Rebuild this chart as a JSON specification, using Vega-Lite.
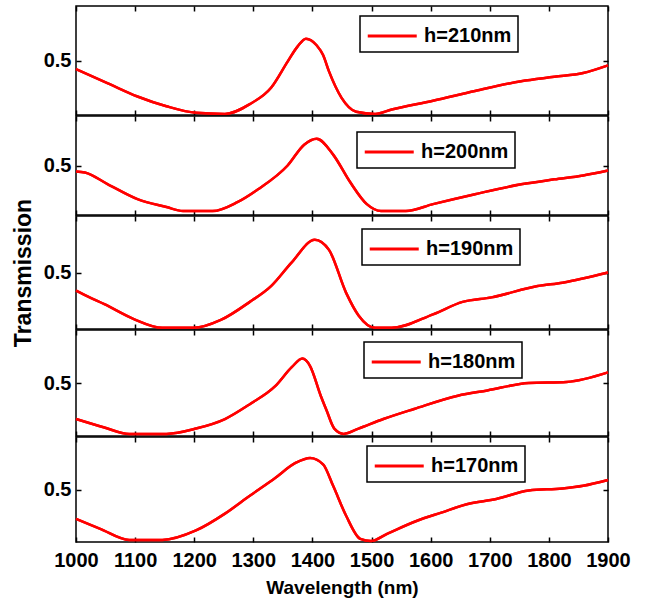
{
  "$schema": "https://vega.github.io/schema/vega-lite/v6.json",
  "padding": {"left": 11, "top": 4, "right": 10, "bottom": 2},
  "spacing": 1,
  "bounds": "flush",
  "datasets": {
    "d": [
      {"panel": "h=210nm", "wl": 1000, "T": 0.42},
      {"panel": "h=210nm", "wl": 1054, "T": 0.29},
      {"panel": "h=210nm", "wl": 1104, "T": 0.17},
      {"panel": "h=210nm", "wl": 1153, "T": 0.08},
      {"panel": "h=210nm", "wl": 1203, "T": 0.02},
      {"panel": "h=210nm", "wl": 1252, "T": 0.01},
      {"panel": "h=210nm", "wl": 1294, "T": 0.10},
      {"panel": "h=210nm", "wl": 1330, "T": 0.25},
      {"panel": "h=210nm", "wl": 1358, "T": 0.49},
      {"panel": "h=210nm", "wl": 1375, "T": 0.63},
      {"panel": "h=210nm", "wl": 1389, "T": 0.70},
      {"panel": "h=210nm", "wl": 1407, "T": 0.64},
      {"panel": "h=210nm", "wl": 1418, "T": 0.55},
      {"panel": "h=210nm", "wl": 1428, "T": 0.40},
      {"panel": "h=210nm", "wl": 1449, "T": 0.16},
      {"panel": "h=210nm", "wl": 1474, "T": 0.03},
      {"panel": "h=210nm", "wl": 1506, "T": 0.01},
      {"panel": "h=210nm", "wl": 1534, "T": 0.05},
      {"panel": "h=210nm", "wl": 1604, "T": 0.13},
      {"panel": "h=210nm", "wl": 1675, "T": 0.22},
      {"panel": "h=210nm", "wl": 1753, "T": 0.31},
      {"panel": "h=210nm", "wl": 1809, "T": 0.35},
      {"panel": "h=210nm", "wl": 1858, "T": 0.385},
      {"panel": "h=210nm", "wl": 1900, "T": 0.455},

      {"panel": "h=200nm", "wl": 1000, "T": 0.44},
      {"panel": "h=200nm", "wl": 1015, "T": 0.43},
      {"panel": "h=200nm", "wl": 1054, "T": 0.31},
      {"panel": "h=200nm", "wl": 1104, "T": 0.16},
      {"panel": "h=200nm", "wl": 1153, "T": 0.08},
      {"panel": "h=200nm", "wl": 1181, "T": 0.04},
      {"panel": "h=200nm", "wl": 1231, "T": 0.04},
      {"panel": "h=200nm", "wl": 1273, "T": 0.13},
      {"panel": "h=200nm", "wl": 1308, "T": 0.26},
      {"panel": "h=200nm", "wl": 1358, "T": 0.50},
      {"panel": "h=200nm", "wl": 1386, "T": 0.71},
      {"panel": "h=200nm", "wl": 1407, "T": 0.77},
      {"panel": "h=200nm", "wl": 1435, "T": 0.61},
      {"panel": "h=200nm", "wl": 1464, "T": 0.33},
      {"panel": "h=200nm", "wl": 1492, "T": 0.11},
      {"panel": "h=200nm", "wl": 1516, "T": 0.04},
      {"panel": "h=200nm", "wl": 1558, "T": 0.04},
      {"panel": "h=200nm", "wl": 1604, "T": 0.11},
      {"panel": "h=200nm", "wl": 1675, "T": 0.21},
      {"panel": "h=200nm", "wl": 1753, "T": 0.31},
      {"panel": "h=200nm", "wl": 1809, "T": 0.36},
      {"panel": "h=200nm", "wl": 1858, "T": 0.40},
      {"panel": "h=200nm", "wl": 1900, "T": 0.45},

      {"panel": "h=190nm", "wl": 1000, "T": 0.34},
      {"panel": "h=190nm", "wl": 1023, "T": 0.28},
      {"panel": "h=190nm", "wl": 1048, "T": 0.22},
      {"panel": "h=190nm", "wl": 1097, "T": 0.09},
      {"panel": "h=190nm", "wl": 1146, "T": 0.01},
      {"panel": "h=190nm", "wl": 1199, "T": 0.01},
      {"panel": "h=190nm", "wl": 1245, "T": 0.08},
      {"panel": "h=190nm", "wl": 1294, "T": 0.24},
      {"panel": "h=190nm", "wl": 1330, "T": 0.38},
      {"panel": "h=190nm", "wl": 1365, "T": 0.59},
      {"panel": "h=190nm", "wl": 1404, "T": 0.79},
      {"panel": "h=190nm", "wl": 1428, "T": 0.70},
      {"panel": "h=190nm", "wl": 1457, "T": 0.32},
      {"panel": "h=190nm", "wl": 1478, "T": 0.12},
      {"panel": "h=190nm", "wl": 1506, "T": 0.01},
      {"panel": "h=190nm", "wl": 1534, "T": 0.01},
      {"panel": "h=190nm", "wl": 1604, "T": 0.13},
      {"panel": "h=190nm", "wl": 1654, "T": 0.24},
      {"panel": "h=190nm", "wl": 1703, "T": 0.28},
      {"panel": "h=190nm", "wl": 1781, "T": 0.38},
      {"panel": "h=190nm", "wl": 1823, "T": 0.41},
      {"panel": "h=190nm", "wl": 1900, "T": 0.50},

      {"panel": "h=180nm", "wl": 1000, "T": 0.16},
      {"panel": "h=180nm", "wl": 1048, "T": 0.08},
      {"panel": "h=180nm", "wl": 1090, "T": 0.02},
      {"panel": "h=180nm", "wl": 1153, "T": 0.02},
      {"panel": "h=180nm", "wl": 1203, "T": 0.07},
      {"panel": "h=180nm", "wl": 1252, "T": 0.16},
      {"panel": "h=180nm", "wl": 1294, "T": 0.30},
      {"panel": "h=180nm", "wl": 1337, "T": 0.47},
      {"panel": "h=180nm", "wl": 1365, "T": 0.65},
      {"panel": "h=180nm", "wl": 1383, "T": 0.73},
      {"panel": "h=180nm", "wl": 1396, "T": 0.66},
      {"panel": "h=180nm", "wl": 1414, "T": 0.38},
      {"panel": "h=180nm", "wl": 1424, "T": 0.24},
      {"panel": "h=180nm", "wl": 1437, "T": 0.07},
      {"panel": "h=180nm", "wl": 1453, "T": 0.02},
      {"panel": "h=180nm", "wl": 1478, "T": 0.07},
      {"panel": "h=180nm", "wl": 1520, "T": 0.16},
      {"panel": "h=180nm", "wl": 1572, "T": 0.255},
      {"panel": "h=180nm", "wl": 1646, "T": 0.38},
      {"panel": "h=180nm", "wl": 1696, "T": 0.43},
      {"panel": "h=180nm", "wl": 1766, "T": 0.50},
      {"panel": "h=180nm", "wl": 1830, "T": 0.51},
      {"panel": "h=180nm", "wl": 1900, "T": 0.60},

      {"panel": "h=170nm", "wl": 1000, "T": 0.22},
      {"panel": "h=170nm", "wl": 1041, "T": 0.125},
      {"panel": "h=170nm", "wl": 1090, "T": 0.02},
      {"panel": "h=170nm", "wl": 1146, "T": 0.02},
      {"panel": "h=170nm", "wl": 1203, "T": 0.11},
      {"panel": "h=170nm", "wl": 1252, "T": 0.27},
      {"panel": "h=170nm", "wl": 1294, "T": 0.44},
      {"panel": "h=170nm", "wl": 1337, "T": 0.61},
      {"panel": "h=170nm", "wl": 1372, "T": 0.755},
      {"panel": "h=170nm", "wl": 1396, "T": 0.80},
      {"panel": "h=170nm", "wl": 1418, "T": 0.74},
      {"panel": "h=170nm", "wl": 1435, "T": 0.535},
      {"panel": "h=170nm", "wl": 1457, "T": 0.25},
      {"panel": "h=170nm", "wl": 1481, "T": 0.03},
      {"panel": "h=170nm", "wl": 1499, "T": 0.01},
      {"panel": "h=170nm", "wl": 1527, "T": 0.08},
      {"panel": "h=170nm", "wl": 1576, "T": 0.20},
      {"panel": "h=170nm", "wl": 1618, "T": 0.28},
      {"panel": "h=170nm", "wl": 1661, "T": 0.36},
      {"panel": "h=170nm", "wl": 1711, "T": 0.41},
      {"panel": "h=170nm", "wl": 1766, "T": 0.49},
      {"panel": "h=170nm", "wl": 1823, "T": 0.51},
      {"panel": "h=170nm", "wl": 1858, "T": 0.535},
      {"panel": "h=170nm", "wl": 1900, "T": 0.59}
    ]
  },
  "data": {"name": "d"},
  "vconcat": [
    {
      "width": 532, "height": 109,
      "transform": [{"filter": "datum.panel === 'h=210nm'"}],
      "layer": [
        {"mark": {"type": "line", "strokeWidth": 2.5, "interpolate": "monotone"},
         "encoding": {
           "x": {"field": "wl", "type": "quantitative", "scale": {"domain": [1000, 1900], "nice": false}, "axis": {"orient": "bottom", "values": [1000,1100,1200,1300,1400,1500,1600,1700,1800,1900], "labels": false, "title": null}},
           "y": {"field": "T", "type": "quantitative", "scale": {"domain": [0, 1], "nice": false}, "axis": {"orient": "left", "values": [0.5], "format": ".1f", "title": null}},
           "color": {"field": "panel", "type": "nominal", "scale": {"range": ["#ff0000"]}, "legend": {"orient": "none", "legendX": 284, "legendY": 10}}
         }},
        {"mark": {"type": "line", "strokeWidth": 2.5, "interpolate": "monotone", "color": "#ff0000"},
         "encoding": {
           "x": {"field": "wl", "type": "quantitative", "scale": {"domain": [1000, 1900], "nice": false}, "axis": {"orient": "top", "values": [1000,1100,1200,1300,1400,1500,1600,1700,1800,1900], "labels": false, "title": null}},
           "y": {"field": "T", "type": "quantitative", "scale": {"domain": [0, 1], "nice": false}, "axis": {"orient": "right", "values": [0.5], "labels": false, "title": null}}
         }}
      ],
      "resolve": {"axis": {"x": "independent", "y": "independent"}}
    },
    {
      "width": 532, "height": 99,
      "transform": [{"filter": "datum.panel === 'h=200nm'"}],
      "layer": [
        {"mark": {"type": "line", "strokeWidth": 2.5, "interpolate": "monotone"},
         "encoding": {
           "x": {"field": "wl", "type": "quantitative", "scale": {"domain": [1000, 1900], "nice": false}, "axis": {"orient": "bottom", "values": [1000,1100,1200,1300,1400,1500,1600,1700,1800,1900], "labels": false, "title": null}},
           "y": {"field": "T", "type": "quantitative", "scale": {"domain": [0, 1], "nice": false}, "axis": {"orient": "left", "values": [0.5], "format": ".1f", "title": null}},
           "color": {"field": "panel", "type": "nominal", "scale": {"range": ["#ff0000"]}, "legend": {"orient": "none", "legendX": 281, "legendY": 16}}
         }},
        {"mark": {"type": "line", "strokeWidth": 2.5, "interpolate": "monotone", "color": "#ff0000"},
         "encoding": {
           "x": {"field": "wl", "type": "quantitative", "scale": {"domain": [1000, 1900], "nice": false}, "axis": {"orient": "top", "values": [1000,1100,1200,1300,1400,1500,1600,1700,1800,1900], "labels": false, "title": null}},
           "y": {"field": "T", "type": "quantitative", "scale": {"domain": [0, 1], "nice": false}, "axis": {"orient": "right", "values": [0.5], "labels": false, "title": null}}
         }}
      ],
      "resolve": {"axis": {"x": "independent", "y": "independent"}}
    },
    {
      "width": 532, "height": 113,
      "transform": [{"filter": "datum.panel === 'h=190nm'"}],
      "layer": [
        {"mark": {"type": "line", "strokeWidth": 2.5, "interpolate": "monotone"},
         "encoding": {
           "x": {"field": "wl", "type": "quantitative", "scale": {"domain": [1000, 1900], "nice": false}, "axis": {"orient": "bottom", "values": [1000,1100,1200,1300,1400,1500,1600,1700,1800,1900], "labels": false, "title": null}},
           "y": {"field": "T", "type": "quantitative", "scale": {"domain": [0, 1], "nice": false}, "axis": {"orient": "left", "values": [0.5], "format": ".1f", "title": "Transmission", "titleFontSize": 23, "titlePadding": 8}},
           "color": {"field": "panel", "type": "nominal", "scale": {"range": ["#ff0000"]}, "legend": {"orient": "none", "legendX": 286, "legendY": 13}}
         }},
        {"mark": {"type": "line", "strokeWidth": 2.5, "interpolate": "monotone", "color": "#ff0000"},
         "encoding": {
           "x": {"field": "wl", "type": "quantitative", "scale": {"domain": [1000, 1900], "nice": false}, "axis": {"orient": "top", "values": [1000,1100,1200,1300,1400,1500,1600,1700,1800,1900], "labels": false, "title": null}},
           "y": {"field": "T", "type": "quantitative", "scale": {"domain": [0, 1], "nice": false}, "axis": {"orient": "right", "values": [0.5], "labels": false, "title": null}}
         }}
      ],
      "resolve": {"axis": {"x": "independent", "y": "independent"}}
    },
    {
      "width": 532, "height": 106,
      "transform": [{"filter": "datum.panel === 'h=180nm'"}],
      "layer": [
        {"mark": {"type": "line", "strokeWidth": 2.5, "interpolate": "monotone"},
         "encoding": {
           "x": {"field": "wl", "type": "quantitative", "scale": {"domain": [1000, 1900], "nice": false}, "axis": {"orient": "bottom", "values": [1000,1100,1200,1300,1400,1500,1600,1700,1800,1900], "labels": false, "title": null}},
           "y": {"field": "T", "type": "quantitative", "scale": {"domain": [0, 1], "nice": false}, "axis": {"orient": "left", "values": [0.5], "format": ".1f", "title": null}},
           "color": {"field": "panel", "type": "nominal", "scale": {"range": ["#ff0000"]}, "legend": {"orient": "none", "legendX": 288, "legendY": 12}}
         }},
        {"mark": {"type": "line", "strokeWidth": 2.5, "interpolate": "monotone", "color": "#ff0000"},
         "encoding": {
           "x": {"field": "wl", "type": "quantitative", "scale": {"domain": [1000, 1900], "nice": false}, "axis": {"orient": "top", "values": [1000,1100,1200,1300,1400,1500,1600,1700,1800,1900], "labels": false, "title": null}},
           "y": {"field": "T", "type": "quantitative", "scale": {"domain": [0, 1], "nice": false}, "axis": {"orient": "right", "values": [0.5], "labels": false, "title": null}}
         }}
      ],
      "resolve": {"axis": {"x": "independent", "y": "independent"}}
    },
    {
      "width": 532, "height": 105,
      "transform": [{"filter": "datum.panel === 'h=170nm'"}],
      "layer": [
        {"mark": {"type": "line", "strokeWidth": 2.5, "interpolate": "monotone"},
         "encoding": {
           "x": {"field": "wl", "type": "quantitative", "scale": {"domain": [1000, 1900], "nice": false}, "axis": {"orient": "bottom", "values": [1000,1100,1200,1300,1400,1500,1600,1700,1800,1900], "format": "d", "labels": true, "title": "Wavelength (nm)", "labelPadding": 13, "titlePadding": 8, "titleFontSize": 19, "labelFlush": false, "labelOverlap": false}},
           "y": {"field": "T", "type": "quantitative", "scale": {"domain": [0, 1], "nice": false}, "axis": {"orient": "left", "values": [0.5], "format": ".1f", "title": null}},
           "color": {"field": "panel", "type": "nominal", "scale": {"range": ["#ff0000"]}, "legend": {"orient": "none", "legendX": 291, "legendY": 9}}
         }},
        {"mark": {"type": "line", "strokeWidth": 2.5, "interpolate": "monotone", "color": "#ff0000"},
         "encoding": {
           "x": {"field": "wl", "type": "quantitative", "scale": {"domain": [1000, 1900], "nice": false}, "axis": {"orient": "top", "values": [1000,1100,1200,1300,1400,1500,1600,1700,1800,1900], "labels": false, "title": null}},
           "y": {"field": "T", "type": "quantitative", "scale": {"domain": [0, 1], "nice": false}, "axis": {"orient": "right", "values": [0.5], "labels": false, "title": null}}
         }}
      ],
      "resolve": {"axis": {"x": "independent", "y": "independent"}}
    }
  ],
  "resolve": {"scale": {"color": "independent"}, "legend": {"color": "independent"}},
  "config": {
    "font": "Liberation Sans, Arial, sans-serif",
    "view": {"stroke": "black", "strokeWidth": 1.5},
    "axis": {
      "labelFont": "Liberation Sans, Arial, sans-serif",
      "labelFontSize": 20, "labelFontWeight": "bold", "labelColor": "black",
      "titleFont": "Liberation Sans, Arial, sans-serif",
      "titleFontSize": 20, "titleFontWeight": "bold", "titleColor": "black",
      "domain": false, "grid": false,
      "tickColor": "black", "tickSize": -5, "tickWidth": 1.5,
      "labelPadding": 10
    },
    "legend": {
      "title": null,
      "symbolType": "M-1,0L3,0",
      "symbolSize": 600,
      "symbolStrokeWidth": 3,
      "symbolStrokeColor": "#ff0000",
      "labelFont": "Liberation Sans, Arial, sans-serif",
      "labelFontSize": 20, "labelFontWeight": "bold", "labelColor": "black",
      "labelOffset": 30,
      "strokeColor": "black",
      "strokeWidth": 1.5,
      "fillColor": "white",
      "padding": 6
    }
  }
}
